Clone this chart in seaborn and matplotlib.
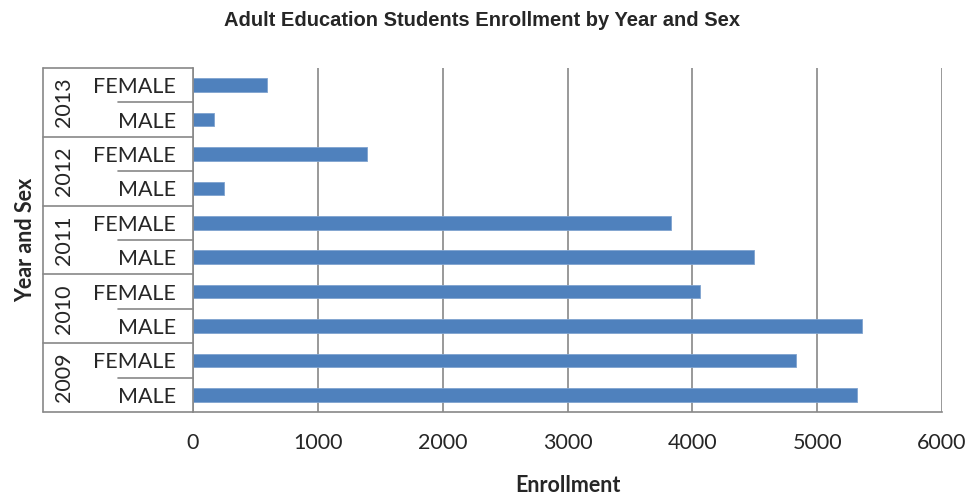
import matplotlib
matplotlib.use("Agg")
import matplotlib.pyplot as plt
import matplotlib.transforms as mtransforms
import seaborn as sns
import pandas as pd

years = ["2013", "2013", "2012", "2012", "2011", "2011", "2010", "2010", "2009", "2009"]
sexes = ["FEMALE", "MALE", "FEMALE", "MALE", "FEMALE", "MALE", "FEMALE", "MALE", "FEMALE", "MALE"]
enrollment = [590, 170, 1395, 248, 3830, 4490, 4060, 5360, 4830, 5320]
x_ticks = [0, 1000, 2000, 3000, 4000, 5000, 6000]

sns.set_style("white")
plt.rcParams['font.family'] = ['Lato', 'DejaVu Sans']

df = pd.DataFrame({"key": [f"{y} {s}" for y, s in zip(years, sexes)],
                   "year": years, "sex": sexes, "value": enrollment})

fig = plt.figure(figsize=(9.75, 4.96), dpi=100)
ax = fig.add_axes([193/975, 1-412/496, (942-193)/975, (412-68)/496])

sns.barplot(data=df, x="value", y="key", order=list(df["key"]), color="#4F81BD",
            width=0.4, saturation=1, ax=ax, edgecolor="#7FA3CF", linewidth=0.6)

fs = 15.5
grid_c = "#888888"
ax.set_xlim(0, 6000)
ax.set_ylim(len(df) - 0.5, -0.5)
ax.set_xticks(x_ticks)
ax.set_xticklabels([str(t) for t in x_ticks], fontsize=fs)
ax.set_yticks(range(len(df)))
ax.set_yticklabels(sexes, fontsize=fs)
ax.tick_params(axis="y", length=0, pad=12.5)
ax.tick_params(axis="x", length=8, width=1.2, color=grid_c, pad=7, direction="out")
ax.xaxis.grid(True, color=grid_c, linewidth=1.2)
ax.set_axisbelow(True)
for side in ["top", "right"]:
    ax.spines[side].set_visible(False)
for side in ["left", "bottom"]:
    ax.spines[side].set_color(grid_c)
    ax.spines[side].set_linewidth(1.2)

ax.set_ylabel("")
ax.set_xlabel("Enrollment", fontsize=fs, fontweight="bold", labelpad=16)

# multi-level category axis
trans = mtransforms.blended_transform_factory(fig.transFigure, ax.transData)
x_outer = 43/975
x_inner = 118/975
x_axis = 193/975
n = len(df)
for b in range(0, n + 1, 2):
    ax.plot([x_outer, x_axis], [b - 0.5, b - 0.5], transform=trans, color=grid_c,
            linewidth=1.2, clip_on=False)
for b in range(0, n, 2):
    ax.plot([x_inner, x_axis], [b + 0.5, b + 0.5], transform=trans, color=grid_c,
            linewidth=1.2, clip_on=False)
ax.plot([x_outer, x_outer], [-0.5, n - 0.5], transform=trans, color=grid_c,
        linewidth=1.2, clip_on=False)
for i in range(0, n, 2):
    ax.text(64/975, i + 0.5, years[i], transform=trans, rotation=90,
            ha="center", va="center", fontsize=fs)

fig.text(26/975, ax.get_position().y0 + ax.get_position().height / 2, "Year and Sex",
         rotation=90, ha="center", va="center", fontsize=fs, fontweight="bold")

fig.text(0.494, 1 - 20/496, "Adult Education Students Enrollment by Year and Sex",
         ha="center", va="center", fontsize=14.5, fontweight="bold",
         family=["Liberation Sans Narrow", "Liberation Sans", "DejaVu Sans"])

fig.savefig("out.png", dpi=100, facecolor="white")
